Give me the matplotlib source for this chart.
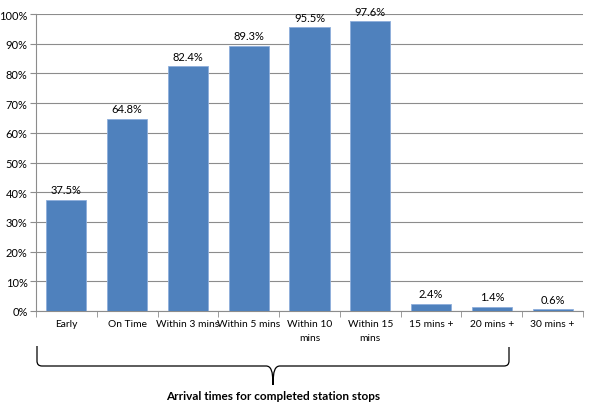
import matplotlib
matplotlib.use("Agg")
import matplotlib.pyplot as plt
from matplotlib.path import Path
from matplotlib.patches import PathPatch
import numpy as np

categories = ["Early", "On Time", "Within 3 mins", "Within 5 mins", "Within 10\nmins",
              "Within 15\nmins", "15 mins +", "20 mins +", "30 mins +"]
values = [37.5, 64.8, 82.4, 89.3, 95.5, 97.6, 2.4, 1.4, 0.6]
xlabel = "Arrival times for completed station stops"

plt.rcParams['font.family'] = ['Lato', 'DejaVu Sans']

W, H = 592, 410
fig = plt.figure(figsize=(W / 100, H / 100), dpi=100)
ax = fig.add_axes([36 / W, 1 - 312 / H, (583 - 36) / W, (312 - 15) / H])

x = np.arange(len(categories))
bars = ax.bar(x, values, width=0.66, color='#4F81BD', edgecolor='#8eaedb',
              linewidth=0.6, zorder=3)
for xi, v in zip(x, values):
    ax.text(xi, v + 3.4, f"{v:.1f}%", ha='center', va='center', fontsize=8)

ax.set_xlim(-0.5, len(categories) - 0.5)
ax.set_ylim(0, 100)
ax.set_yticks(np.arange(0, 101, 10))
ax.set_yticklabels([f"{t}%" for t in range(0, 101, 10)], fontsize=8)
ax.yaxis.grid(True, color='#8c8c8c', linewidth=0.8, zorder=0)
ax.set_xticks(x)
ax.set_xticklabels(categories, fontsize=7.4, linespacing=1.6)
ax.set_xticks(np.arange(-0.5, len(categories), 1), minor=True)
ax.tick_params(axis='x', which='major', length=0, pad=6)
ax.tick_params(axis='x', which='minor', length=4, color='#8c8c8c')
ax.tick_params(axis='y', length=4, color='#8c8c8c', pad=2)
for s in ['top', 'right']:
    ax.spines[s].set_visible(False)
ax.spines['left'].set_color('#8c8c8c')
ax.spines['bottom'].set_color('#8c8c8c')

# curly brace under the axis (pixel coords -> figure fraction)
def fp(px, py):
    return (px / W, 1 - py / H)

pts = [(37, 347), (37, 362), (37, 367), (42, 367), (266, 367),
       (271, 367), (273, 372), (273, 386),
       (273, 372), (275, 367), (280, 367),
       (504, 367), (509, 367), (509, 362), (509, 348)]
codes = [Path.MOVETO, Path.LINETO, Path.CURVE3, Path.CURVE3, Path.LINETO,
         Path.CURVE4, Path.CURVE4, Path.CURVE4,
         Path.CURVE4, Path.CURVE4, Path.CURVE4,
         Path.LINETO, Path.CURVE3, Path.CURVE3, Path.LINETO]
brace = PathPatch(Path([fp(*p) for p in pts], codes), transform=fig.transFigure,
                  fill=False, edgecolor='black', linewidth=0.9)
fig.patches.append(brace)

fig.text(273 / W, 1 - 397 / H, xlabel, ha='center', va='center',
         fontsize=8.5, fontweight='bold')

fig.savefig("out.png", dpi=100)
